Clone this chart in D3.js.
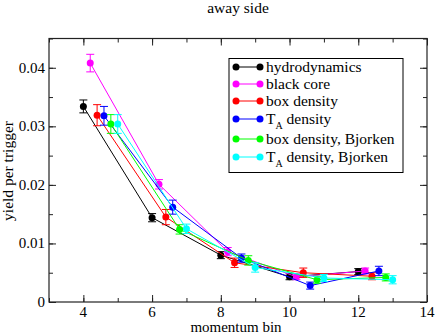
<!DOCTYPE html>
<html>
<head>
<meta charset="UTF-8">
</head>
<body style="margin:0">
<script src="https://d3js.org/d3.v7.min.js"></script>
<script>

// series names and colours
var seriesNames = ['hydrodynamics', 'black core', 'box density', 'T_A density', 'box density, Bjorken', 'T_A density, Bjorken'];
var seriesColors = ['#000000', '#ff00ff', '#ff0000', '#0000ff', '#00ff00', '#00ffff'];

// momentum bin positions (each series shifted a bit)
var xHydro   = [4.0, 6.0, 8.0, 10.0, 12.0];
var xBlack   = [4.2, 6.2, 8.2, 10.2, 12.2];
var xBox     = [4.4, 6.4, 8.4, 10.4, 12.4];
var xTA      = [4.6, 6.6, 8.6, 10.6, 12.6];
var xBoxBj   = [4.8, 6.8, 8.8, 10.8, 12.8];
var xTABj    = [5.0, 7.0, 9.0, 11.0, 13.0];

// yield per trigger
var yHydro   = [0.0334, 0.0144, 0.0080, 0.0043, 0.0052];
var yBlack   = [0.0408, 0.0201, 0.0086, 0.0043, 0.0053];
var yBox     = [0.0319, 0.0145, 0.0067, 0.0050, 0.0044];
var yTA      = [0.0318, 0.0162, 0.0075, 0.0028, 0.0053];
var yBoxBj   = [0.0304, 0.0124, 0.0071, 0.0038, 0.0042];
var yTABj    = [0.0304, 0.0125, 0.0059, 0.0041, 0.0038];

// errors
var eHydro   = [0.0011, 0.0007, 0.0006, 0.0005, 0.0005];
var eBlack   = [0.0015, 0.0008, 0.0007, 0.0005, 0.0005];
var eBox     = [0.0018, 0.0013, 0.0008, 0.0008, 0.0006];
var eTA      = [0.0016, 0.0012, 0.0007, 0.0006, 0.0008];
var eBoxBj   = [0.0016, 0.0008, 0.0008, 0.0006, 0.0006];
var eTABj    = [0.0016, 0.0008, 0.0008, 0.0006, 0.0007];

var xTicks = [4, 6, 8, 10, 12, 14];
var yTicks = [0, 0.01, 0.02, 0.03, 0.04];

var allX = [xHydro, xBlack, xBox, xTA, xBoxBj, xTABj];
var allY = [yHydro, yBlack, yBox, yTA, yBoxBj, yTABj];
var allE = [eHydro, eBlack, eBox, eTA, eBoxBj, eTABj];

var series = seriesNames.map(function(name, i) {
    return {
        name: name,
        color: seriesColors[i],
        points: allX[i].map(function(x, j) {
            return {x: x, y: allY[i][j], e: allE[i][j]};
        })
    };
});

var width = 436, height = 333;
var pLeft = 49, pRight = 427, pTop = 38.5, pBottom = 302;
var fontName = 'Liberation Serif';

var x = d3.scaleLinear().domain([3, 14]).range([pLeft, pRight]);
var y = d3.scaleLinear().domain([0, 0.045]).range([pBottom, pTop]);

var svg = d3.select('body').append('svg')
    .attr('width', width)
    .attr('height', height)
    .attr('font-family', fontName);

// title
svg.append('text')
    .attr('x', 238).attr('y', 13)
    .attr('text-anchor', 'middle')
    .attr('font-family', fontName)
    .attr('font-size', 15.5)
    .text('away side');

// axes, ticks inward on all sides
var xMinor = d3.range(3, 14.01, 1);
var yMinor = d3.range(0, 0.0451, 0.005);

function tickAxis(axis, scale, ticks, size) {
    return axis(scale).tickValues(ticks).tickSize(size).tickFormat('');
}

svg.append('g').attr('transform', 'translate(0,' + pBottom + ')')
    .call(tickAxis(d3.axisTop, x, xMinor, 4));
svg.append('g').attr('transform', 'translate(0,' + pBottom + ')')
    .call(tickAxis(d3.axisTop, x, xTicks, 7));
svg.append('g').attr('transform', 'translate(0,' + pTop + ')')
    .call(tickAxis(d3.axisBottom, x, xMinor, 4));
svg.append('g').attr('transform', 'translate(0,' + pTop + ')')
    .call(tickAxis(d3.axisBottom, x, xTicks, 7));
svg.append('g').attr('transform', 'translate(' + pLeft + ',0)')
    .call(tickAxis(d3.axisRight, y, yMinor, 4));
svg.append('g').attr('transform', 'translate(' + pLeft + ',0)')
    .call(tickAxis(d3.axisRight, y, yTicks, 7));
svg.append('g').attr('transform', 'translate(' + pRight + ',0)')
    .call(tickAxis(d3.axisLeft, y, yMinor, 4));
svg.append('g').attr('transform', 'translate(' + pRight + ',0)')
    .call(tickAxis(d3.axisLeft, y, yTicks, 7));

svg.selectAll('.domain').remove();
svg.selectAll('.tick line').attr('stroke', '#222');

svg.append('rect')
    .attr('x', pLeft).attr('y', pTop)
    .attr('width', pRight - pLeft).attr('height', pBottom - pTop)
    .attr('fill', 'none').attr('stroke', '#222').attr('stroke-width', 1.2);

// tick labels
svg.selectAll('.xlab').data(xTicks).enter().append('text')
    .attr('class', 'xlab')
    .attr('x', function(d) { return x(d); })
    .attr('y', 317)
    .attr('text-anchor', 'middle')
    .attr('font-family', fontName)
    .attr('font-size', 15)
    .text(function(d) { return d; });

svg.selectAll('.ylab').data(yTicks).enter().append('text')
    .attr('class', 'ylab')
    .attr('x', pLeft - 4)
    .attr('y', function(d) { return y(d) + 5; })
    .attr('text-anchor', 'end')
    .attr('font-family', fontName)
    .attr('font-size', 15)
    .text(function(d) { return d === 0 ? '0' : d3.format('.2f')(d); });

svg.append('text')
    .attr('x', 236).attr('y', 331.5)
    .attr('text-anchor', 'middle')
    .attr('font-family', fontName)
    .attr('font-size', 15)
    .text('momentum bin');

svg.append('text')
    .attr('transform', 'translate(13,171) rotate(-90)')
    .attr('text-anchor', 'middle')
    .attr('font-family', fontName)
    .attr('font-size', 15.5)
    .text('yield per trigger');

// series
var line = d3.line()
    .x(function(d) { return x(d.x); })
    .y(function(d) { return y(d.y); });

var g = svg.selectAll('.series').data(series).enter().append('g')
    .attr('class', 'series');

g.append('path')
    .attr('d', function(d) { return line(d.points); })
    .attr('fill', 'none')
    .attr('stroke', function(d) { return d.color; })
    .attr('stroke-width', 1);

var cap = 4;
g.each(function(s) {
    var sel = d3.select(this).selectAll('.pt').data(s.points).enter().append('g');
    sel.append('path')
        .attr('d', function(d) {
            var cx = x(d.x), y0 = y(d.y - d.e), y1 = y(d.y + d.e);
            return 'M' + cx + ',' + y0 + 'V' + y1 +
                'M' + (cx - cap) + ',' + y1 + 'H' + (cx + cap) +
                'M' + (cx - cap) + ',' + y0 + 'H' + (cx + cap);
        })
        .attr('fill', 'none')
        .attr('stroke', s.color)
        .attr('stroke-width', 1);
    sel.append('circle')
        .attr('cx', function(d) { return x(d.x); })
        .attr('cy', function(d) { return y(d.y); })
        .attr('r', 3.5)
        .attr('fill', s.color);
});

// legend
var rowY = [67, 84, 101, 119, 139, 157];
var legend = svg.append('g');
legend.append('rect')
    .attr('x', 229).attr('y', 58.5)
    .attr('width', 174).attr('height', 114)
    .attr('fill', '#fff').attr('stroke', '#000').attr('stroke-width', 1);

var item = legend.selectAll('.legend').data(series).enter().append('g')
    .attr('class', 'legend')
    .attr('transform', function(d, i) { return 'translate(0,' + rowY[i] + ')'; });

item.append('line')
    .attr('x1', 236).attr('x2', 260)
    .attr('stroke', function(d) { return d.color; });
item.append('circle').attr('cx', 236).attr('r', 3.5).attr('fill', function(d) { return d.color; });
item.append('circle').attr('cx', 260).attr('r', 3.5).attr('fill', function(d) { return d.color; });

item.append('text')
    .attr('x', 266)
    .attr('y', 5)
    .attr('font-family', fontName)
    .attr('font-size', 15.5)
    .each(function(d) {
        var t = d3.select(this);
        if (d.name.indexOf('T_A') === 0) {
            t.append('tspan').text('T');
            t.append('tspan').attr('dy', 5).attr('font-size', 10).text('A');
            t.append('tspan').attr('dy', -5).text(d.name.slice(3));
        } else {
            t.text(d.name);
        }
    });
</script>
</body>
</html>
